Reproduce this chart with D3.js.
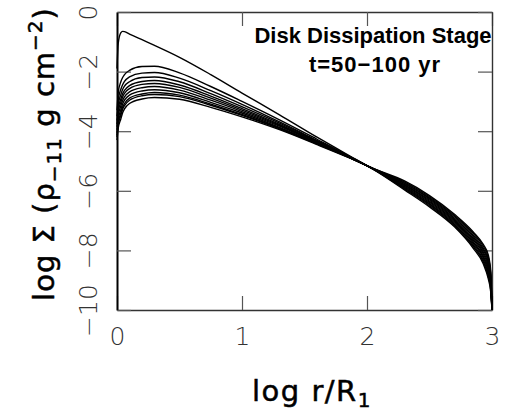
<!DOCTYPE html>
<html>
<head>
<meta charset="utf-8">
<script src="https://cdn.jsdelivr.net/npm/d3@7"></script>
<style>
  body { margin: 0; background: #fff; }
  svg { display: block; }
  .tickLabel { font-family: "DejaVu Sans", sans-serif; font-weight: 200; font-size: 25px; fill: #333; }
  .title { font-family: "DejaVu Sans", sans-serif; font-size: 29px; fill: #000; stroke: #000; stroke-width: 0.5; }
  .note { font-family: "Liberation Sans", Arial, sans-serif; font-weight: bold; font-size: 22px; fill: #000; }
</style>
</head>
<body>
<svg id="chart" width="508" height="414"></svg>
<script>
// log r/R1 sample points shared by every profile
var logR = [0, 0.01, 0.03, 0.045, 0.06, 0.1, 0.2, 0.3, 0.5, 0.75, 1.0, 1.3, 1.6, 1.85, 2.08, 2.3, 2.5, 2.7, 2.85, 2.93, 2.97, 2.99, 3.0];

// log Sigma profiles, t = 50 ... 100 yr
var sig050 = [-1.90, -1.05, -0.70, -0.65, -0.66, -0.74, -0.93, -1.12, -1.52, -2.10, -2.72, -3.45, -4.20, -4.80, -5.36, -5.97, -6.54, -7.21, -7.93, -8.45, -8.95, -9.40, -10];
var sig055 = [-3.30, -2.70, -2.35, -2.20, -2.10, -1.96, -1.83, -1.82, -2.04, -2.50, -3.00, -3.62, -4.27, -4.82, -5.35, -5.94, -6.50, -7.17, -7.87, -8.38, -8.87, -9.33, -10];
var sig060 = [-3.50, -2.94, -2.60, -2.44, -2.33, -2.18, -2.05, -2.03, -2.22, -2.64, -3.10, -3.69, -4.31, -4.83, -5.34, -5.91, -6.46, -7.13, -7.82, -8.32, -8.79, -9.26, -10];
var sig065 = [-3.64, -3.11, -2.78, -2.60, -2.49, -2.34, -2.20, -2.18, -2.34, -2.74, -3.18, -3.73, -4.33, -4.84, -5.34, -5.88, -6.43, -7.08, -7.76, -8.25, -8.71, -9.19, -10];
var sig070 = [-3.76, -3.25, -2.93, -2.74, -2.63, -2.47, -2.33, -2.30, -2.45, -2.82, -3.24, -3.77, -4.35, -4.85, -5.33, -5.85, -6.39, -7.04, -7.71, -8.19, -8.63, -9.12, -10];
var sig075 = [-3.85, -3.36, -3.04, -2.85, -2.73, -2.57, -2.43, -2.40, -2.53, -2.89, -3.29, -3.80, -4.37, -4.85, -5.33, -5.82, -6.35, -7.00, -7.65, -8.12, -8.55, -9.05, -10];
var sig080 = [-3.95, -3.48, -3.16, -2.97, -2.85, -2.68, -2.54, -2.50, -2.62, -2.96, -3.34, -3.83, -4.39, -4.86, -5.32, -5.79, -6.31, -6.96, -7.60, -8.06, -8.47, -8.98, -10];
var sig085 = [-4.05, -3.60, -3.29, -3.09, -2.96, -2.79, -2.65, -2.61, -2.71, -3.03, -3.39, -3.87, -4.41, -4.87, -5.32, -5.76, -6.27, -6.92, -7.54, -7.99, -8.39, -8.91, -10];
var sig090 = [-4.14, -3.71, -3.40, -3.19, -3.07, -2.89, -2.75, -2.70, -2.79, -3.09, -3.44, -3.90, -4.42, -4.87, -5.31, -5.73, -6.24, -6.87, -7.49, -7.93, -8.31, -8.84, -10];
var sig095 = [-4.20, -3.78, -3.48, -3.26, -3.14, -2.96, -2.81, -2.77, -2.84, -3.13, -3.47, -3.92, -4.43, -4.87, -5.31, -5.70, -6.20, -6.83, -7.43, -7.86, -8.23, -8.77, -10];
var sig100 = [-4.30, -3.90, -3.60, -3.38, -3.25, -3.07, -2.92, -2.87, -2.93, -3.20, -3.52, -3.95, -4.45, -4.88, -5.30, -5.67, -6.16, -6.79, -7.38, -7.80, -8.15, -8.70, -10];

var profiles = [sig050, sig055, sig060, sig065, sig070, sig075, sig080, sig085, sig090, sig095, sig100];

var xTicks = [0, 1, 2, 3];
var yTicks = [0, -2, -4, -6, -8, -10];

var svg = d3.select("#chart"),
    plotLeft = 117, plotRight = 492, plotTop = 12, plotBottom = 310;

var xScale = d3.scaleLinear().domain([0, 3]).range([plotLeft, plotRight]),
    yScale = d3.scaleLinear().domain([-10, 0]).range([plotBottom, plotTop]);

var fmt = function(d) { return d < 0 ? "\u2212" + Math.abs(d) : String(d); };

// frame + inward ticks on all four sides
var axB = svg.append("g").attr("transform", "translate(0," + plotBottom + ")")
    .call(d3.axisBottom(xScale).tickValues(xTicks).tickSizeInner(-14).tickSizeOuter(0).tickPadding(17).tickFormat(fmt));
var axT = svg.append("g").attr("transform", "translate(0," + plotTop + ")")
    .call(d3.axisTop(xScale).tickValues(xTicks).tickSizeInner(-14).tickSizeOuter(0).tickFormat(""));
var axL = svg.append("g").attr("transform", "translate(" + plotLeft + ",0)")
    .call(d3.axisLeft(yScale).tickValues(yTicks).tickSizeInner(-14).tickSizeOuter(0).tickFormat(fmt));
var axR = svg.append("g").attr("transform", "translate(" + plotRight + ",0)")
    .call(d3.axisRight(yScale).tickValues(yTicks).tickSizeInner(-14).tickSizeOuter(0).tickFormat(""));

[axB, axT, axL, axR].forEach(function(a) {
    a.select(".domain").attr("stroke", "#333").attr("stroke-width", 1.4);
    a.selectAll(".tick line").attr("stroke", "#555").attr("stroke-width", 1.2);
    a.selectAll("text").attr("class", "tickLabel").attr("font-size", null).attr("font-family", null).attr("fill", null);
});
axL.select(".domain").attr("stroke", "#000").attr("stroke-width", 2);

axL.selectAll(".tick text")
    .attr("x", null).attr("dy", null)
    .attr("text-anchor", "middle")
    .attr("transform", "translate(-20,0) rotate(-90)");

// profiles
var line = d3.line()
    .x(function(d, i) { return xScale(logR[i]); })
    .y(function(d) { return yScale(d); })
    .curve(d3.curveMonotoneX);

svg.append("g").selectAll("path")
    .data(profiles)
    .enter().append("path")
    .attr("d", line)
    .attr("fill", "none")
    .attr("stroke", "#000")
    .attr("stroke-width", 1.4);

// annotation
svg.append("text").attr("class", "note")
    .attr("x", 373).attr("y", 43).attr("text-anchor", "middle")
    .text("Disk Dissipation Stage");
svg.append("text").attr("class", "note")
    .attr("x", 375).attr("y", 72).attr("text-anchor", "middle")
    .attr("letter-spacing", 1)
    .text("t=50\u2212100 yr");

// axis titles
var xt = svg.append("text").attr("class", "title")
    .attr("x", 312).attr("y", 401).attr("text-anchor", "middle").attr("letter-spacing", 1.5);
xt.append("tspan").text("log r/R");
xt.append("tspan").attr("font-size", 20).attr("dy", 6).text("1");

var yt = svg.append("text").attr("class", "title")
    .attr("transform", "translate(54,154) rotate(-90)")
    .attr("text-anchor", "middle").attr("letter-spacing", 1);
yt.append("tspan").text("log \u03A3 (\u03C1");
yt.append("tspan").attr("font-size", 20).attr("dy", 7).text("\u221211");
yt.append("tspan").attr("dy", -7).text(" g cm");
yt.append("tspan").attr("font-size", 20).attr("dy", -12).text("\u22122");
yt.append("tspan").attr("dy", 12).text(")");
</script>
</body>
</html>
